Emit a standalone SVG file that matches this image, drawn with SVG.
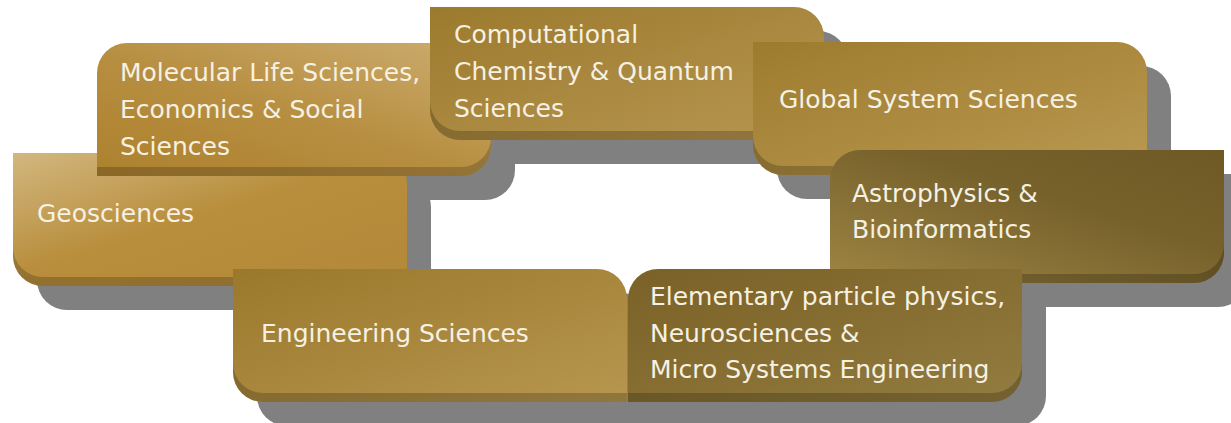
<svg xmlns="http://www.w3.org/2000/svg" xmlns:xlink="http://www.w3.org/1999/xlink" width="1231" height="423" viewBox="0 0 1231 423">
  <defs>
    <path id="shA" d="M0,0 H364 A30,30 0 0 1 394,30 V124 H30 A30,30 0 0 1 0,94 Z"/>
    <path id="shB" d="M0,30 A30,30 0 0 1 30,0 H394 V94 A30,30 0 0 1 364,124 H0 Z"/>
    <linearGradient id="gGeo" x1="0" y1="0" x2="1" y2="1">
      <stop offset="0" stop-color="#d2b77f"/>
      <stop offset="0.5" stop-color="#b88d3b"/>
      <stop offset="1" stop-color="#b3893a"/>
    </linearGradient>
    <linearGradient id="gMol" x1="0" y1="1" x2="1" y2="0">
      <stop offset="0" stop-color="#ad822f"/>
      <stop offset="0.45" stop-color="#b78e40"/>
      <stop offset="1" stop-color="#ccad70"/>
    </linearGradient>
    <linearGradient id="gComp" x1="0" y1="0" x2="1" y2="1">
      <stop offset="0" stop-color="#9c7a2d"/>
      <stop offset="1" stop-color="#b69550"/>
    </linearGradient>
    <linearGradient id="gGlob" x1="0" y1="0" x2="1" y2="1">
      <stop offset="0" stop-color="#9d7b2e"/>
      <stop offset="1" stop-color="#b99850"/>
    </linearGradient>
    <linearGradient id="gAstro" x1="0" y1="1" x2="1" y2="0">
      <stop offset="0" stop-color="#9c8342"/>
      <stop offset="0.6" stop-color="#76612b"/>
      <stop offset="1" stop-color="#6f5a26"/>
    </linearGradient>
    <linearGradient id="gElem" x1="0" y1="0" x2="1" y2="1">
      <stop offset="0" stop-color="#7a6127"/>
      <stop offset="1" stop-color="#927b3e"/>
    </linearGradient>
    <linearGradient id="gEng" x1="0" y1="0" x2="1" y2="1">
      <stop offset="0" stop-color="#9a782b"/>
      <stop offset="1" stop-color="#b6954e"/>
    </linearGradient>
  </defs>
  <style>
    .shadow { fill: #808080; }
    .lip { fill: #000000; fill-opacity: 0.2; }
    .label { font-family: "DejaVu Sans", "Liberation Sans", sans-serif; font-size: 25px; fill: #f6f1e2; }
  </style>

  <g id="connectors"></g>

  <g id="shadows">
    <use href="#shA" transform="translate(37,177)" class="shadow"/>
    <use href="#shA" transform="translate(37,186)" class="shadow"/>
    <use href="#shB" transform="translate(121,67)" class="shadow"/>
    <use href="#shB" transform="translate(121,76)" class="shadow"/>
    <use href="#shA" transform="translate(454,31)" class="shadow"/>
    <use href="#shA" transform="translate(454,40)" class="shadow"/>
    <use href="#shA" transform="translate(777,66)" class="shadow"/>
    <use href="#shA" transform="translate(777,75)" class="shadow"/>
    <use href="#shB" transform="translate(854,174)" class="shadow"/>
    <use href="#shB" transform="translate(854,183)" class="shadow"/>
    <use href="#shB" transform="translate(652,293)" class="shadow"/>
    <use href="#shB" transform="translate(652,302)" class="shadow"/>
    <use href="#shA" transform="translate(257,293)" class="shadow"/>
    <use href="#shA" transform="translate(257,302)" class="shadow"/>
    <rect class="shadow" x="640" y="330" width="24" height="96"/>
  </g>

  <g id="geosciences" transform="translate(13,153)">
    <use href="#shA" y="9" fill="url(#gGeo)"/>
    <use href="#shA" y="9" class="lip"/>
    <use href="#shA" fill="url(#gGeo)"/>
    <text class="label" x="24" y="69">Geosciences</text>
  </g>

  <g id="molecular" transform="translate(97,43)">
    <use href="#shB" y="9" fill="url(#gMol)"/>
    <use href="#shB" y="9" class="lip"/>
    <use href="#shB" fill="url(#gMol)"/>
    <text class="label" x="23" y="38">Molecular Life Sciences,</text>
    <text class="label" x="23" y="75">Economics &amp; Social</text>
    <text class="label" x="23" y="112">Sciences</text>
  </g>

  <g id="computational" transform="translate(430,7)">
    <use href="#shA" y="9" fill="url(#gComp)"/>
    <use href="#shA" y="9" class="lip"/>
    <use href="#shA" fill="url(#gComp)"/>
    <text class="label" x="24" y="36">Computational</text>
    <text class="label" x="24" y="73">Chemistry &amp; Quantum</text>
    <text class="label" x="24" y="110">Sciences</text>
  </g>

  <g id="global" transform="translate(753,42)">
    <use href="#shA" y="9" fill="url(#gGlob)"/>
    <use href="#shA" y="9" class="lip"/>
    <use href="#shA" fill="url(#gGlob)"/>
    <text class="label" x="26" y="66">Global System Sciences</text>
  </g>

  <g id="astrophysics" transform="translate(830,150)">
    <use href="#shB" y="9" fill="url(#gAstro)"/>
    <use href="#shB" y="9" class="lip"/>
    <use href="#shB" fill="url(#gAstro)"/>
    <text class="label" x="22" y="52">Astrophysics &amp;</text>
    <text class="label" x="22" y="88">Bioinformatics</text>
  </g>

  <g id="elementary" transform="translate(628,269)">
    <use href="#shB" y="9" fill="url(#gElem)"/>
    <use href="#shB" y="9" class="lip"/>
    <use href="#shB" fill="url(#gElem)"/>
    <text class="label" x="22" y="36">Elementary particle physics,</text>
    <text class="label" x="22" y="73">Neurosciences &amp;</text>
    <text class="label" x="22" y="109">Micro Systems Engineering</text>
  </g>

  <g id="engineering" transform="translate(233,269)">
    <use href="#shA" y="9" fill="url(#gEng)"/>
    <use href="#shA" y="9" class="lip"/>
    <use href="#shA" fill="url(#gEng)"/>
    <text class="label" x="28" y="73">Engineering Sciences</text>
  </g>
</svg>
